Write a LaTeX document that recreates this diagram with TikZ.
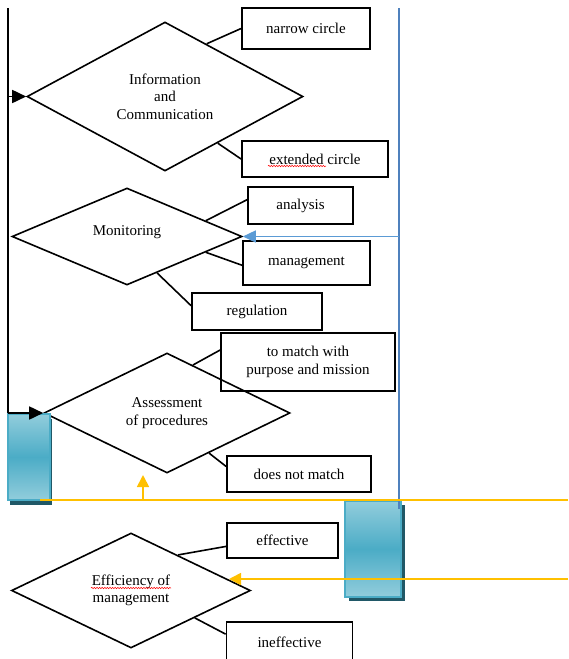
\documentclass[tikz,border=0pt]{standalone}
\usepackage{fontspec}
\setmainfont{Liberation Serif}
\usetikzlibrary{shapes.geometric,arrows.meta,calc,decorations.pathmorphing}
\definecolor{bline}{RGB}{79,129,189}
\definecolor{barrow}{RGB}{91,155,213}
\definecolor{yel}{RGB}{255,192,0}
\definecolor{glight}{RGB}{146,205,220}
\definecolor{gmid}{RGB}{75,172,198}
\definecolor{gshadow}{RGB}{32,88,103}
\begin{document}
\begin{tikzpicture}[x=1pt,y=-1pt,
  font=\fontsize{15}{17.5}\selectfont,
  dia/.style={draw, shape=diamond, inner sep=0pt, line width=1.6pt, align=center},
  lbl/.style={draw, rectangle, line width=1.8pt, inner sep=0pt, align=center},
  conn/.style={line width=1.6pt},
  blackarr/.style={line width=1.7pt, -{Triangle[length=14pt,width=13pt]}},
  bluearr/.style={barrow, line width=1.5pt, -{Triangle[length=13pt,width=12pt]}},
  yelline/.style={yel, line width=1.7pt},
  yelarr/.style={yel, line width=1.7pt, -{Triangle[length=12pt,width=12pt]}},
  squig/.style={red, line width=0.5pt, decorate, decoration={snake, amplitude=0.7pt, segment length=2.6pt}},
  gbox/.style={top color=glight, bottom color=glight, middle color=gmid, draw=gmid, line width=1.6pt},
  gshad/.style={fill=gshadow}
]
\useasboundingbox (0,0) rectangle (568,659);
\clip (0,0) rectangle (568,659);

% diamonds
\node[dia, minimum width=276pt, minimum height=149pt] (d1) at (165,96.5) {Information\\and\\Communication};
\node[dia, minimum width=230pt, minimum height=97pt] (d2) at (127,236.5) {};
\node (d2t) at ($(d2.center)+(0,-4.5)$) {Monitoring};
\node[dia, minimum width=246pt, minimum height=120pt] (d3) at (167,413) {Assessment\\of procedures};
\node[dia, minimum width=239pt, minimum height=115pt] (d4) at (131,590.5) {Efficiency of\\management};

% boxes
\node[lbl, minimum width=128pt, minimum height=41pt] (nc) at (306,28.5) {narrow circle};
\node[lbl, minimum width=146pt, minimum height=36pt] (ec) at (315,159) {extended circle};
\node[lbl, minimum width=105pt, minimum height=37pt] (an) at (300.5,205.5) {analysis};
\node[lbl, minimum width=127pt, minimum height=44pt] (mg) at (306.5,263) {management};
\node[lbl, minimum width=130pt, minimum height=37pt] (rg) at (257,311.5) {regulation};
\node[lbl, minimum width=174pt, minimum height=58pt] (mt) at (308,362) {to match with\\purpose and mission};
\node[lbl, minimum width=144pt, minimum height=36pt] (dm) at (299,474) {does not match};
\node[lbl, minimum width=111pt, minimum height=35pt] (ef) at (282.5,540.5) {effective};
\node[lbl, minimum width=126pt, minimum height=40pt] (ie) at (289.5,642) {ineffective};

% connectors diamond -> boxes
\draw[conn] ($(d1.north)!0.30!(d1.east)$) -- (nc.west);
\draw[conn] ($(d1.south)!0.38!(d1.east)$) -- (ec.west);
\draw[conn] ($(d2.north)!0.68!(d2.east)$) -- ($(an.north west)!0.35!(an.south west)$);
\draw[conn] ($(d2.south)!0.68!(d2.east)$) -- ($(mg.north west)!0.55!(mg.south west)$);
\draw[conn] ($(d2.south)!0.26!(d2.east)$) -- ($(rg.north west)!0.35!(rg.south west)$);
\draw[conn] ($(d3.north)!0.21!(d3.east)$) -- ($(mt.north west)!0.30!(mt.south west)$);
\draw[conn] ($(d3.south)!0.34!(d3.east)$) -- ($(dm.north west)!0.30!(dm.south west)$);
\draw[conn] ($(d4.north)!0.39!(d4.east)$) -- ($(ef.north west)!0.66!(ef.south west)$);
\draw[conn] ($(d4.south)!0.53!(d4.east)$) -- ($(ie.north west)+(0,13)$);

% left black line and arrows
\coordinate (ltop) at (8,8);
\draw[line width=1.8pt] (ltop) -- (ltop |- d3.west);
\draw[blackarr] (ltop |- d1.west) -- (d1.west);

% gradient boxes
\fill[gshad] (10,419) rectangle (52,505);
\shade[gbox] (8,414) rectangle (50,500);
\fill[gshad] (349,505) rectangle (405,601);
\shade[gbox] (345,501) rectangle (401,597);

\draw[blackarr] (ltop |- d3.west) -- (d3.west);

% blue line and arrow
\coordinate (btop) at (399,8);
\coordinate (bbot) at (399,509);
\draw[bline, line width=1.5pt] (btop) -- (bbot);
\draw[bluearr] (btop |- d2.east) -- (d2.east);

% yellow lines and arrows
\coordinate (y1a) at (40,500);
\coordinate (y1b) at (568,500);
\draw[yelline] (y1a) -- (y1b);
\coordinate (yup0) at (143,500);
\coordinate (yup1) at (143,475);
\draw[yelarr] (yup0) -- (yup1);
\coordinate (y2a) at (568,579);
\coordinate (y2t) at (229,579);
\draw[yelarr] (y2a) -- (y2t);

% spell-check squiggles
\draw[squig] (268,166) -- (326,166);
\draw[squig] (91,588) -- (171,588);
\end{tikzpicture}
\end{document}
